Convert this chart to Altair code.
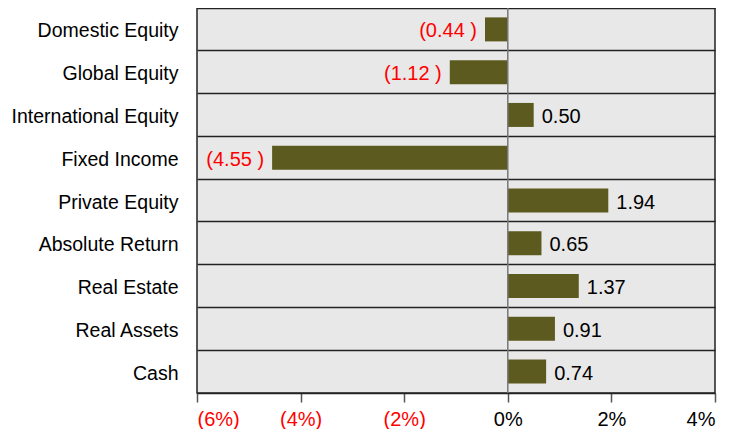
import altair as alt
import pandas as pd

categories = ["Domestic Equity", "Global Equity", "International Equity", "Fixed Income",
              "Private Equity", "Absolute Return", "Real Estate", "Real Assets", "Cash"]
values = [-0.44, -1.12, 0.50, -4.55, 1.94, 0.65, 1.37, 0.91, 0.74]
x_ticks = [-6, -4, -2, 0, 2, 4]

df = pd.DataFrame({"cat": categories, "val": values})
df["label"] = [f"({abs(v):.2f} )" if v < 0 else f"{v:.2f}" for v in values]

FONT = "Liberation Sans"
W, H = 518, 385

y_enc = alt.Y("cat:N", sort=categories, title=None,
              scale=alt.Scale(paddingInner=0, paddingOuter=0),
              axis=alt.Axis(labelFontSize=19.5, labelColor="black", labelFont=FONT,
                            ticks=False, domain=False, grid=True, bandPosition=0,
                            gridColor="#222", gridWidth=1.5, labelPadding=19,
                            labelOffset=2, labelLimit=300))
x_enc = alt.X("val:Q", title=None,
              scale=alt.Scale(domain=[-6, 4], nice=False, zero=False),
              axis=alt.Axis(values=x_ticks, grid=False, labelFontSize=20, labelFont=FONT,
                            labelExpr="datum.value < 0 ? '(' + abs(datum.value) + '%)' : datum.value + '%'",
                            labelColor={"condition": {"test": "datum.value < 0", "value": "red"}, "value": "black"},
                            tickSize=9, tickColor="#555", tickWidth=1.5, domainColor="#222",
                            domainWidth=1.5, labelPadding=7))

bars = alt.Chart(df).mark_bar(size=24, color="#5c5a1f").encode(y=y_enc, x=x_enc)

zero = alt.Chart(pd.DataFrame({"z": [0]})).mark_rule(color="#777", strokeWidth=1.5).encode(x=alt.X("z:Q"))

neg = alt.Chart(df).transform_filter("datum.val < 0").mark_text(
    align="right", dx=-8, dy=2, fontSize=20, font=FONT, color="red").encode(
    y=alt.Y("cat:N", sort=categories), x=alt.X("val:Q"), text="label:N")
pos = alt.Chart(df).transform_filter("datum.val >= 0").mark_text(
    align="left", dx=8, dy=2, fontSize=20, font=FONT, color="black").encode(
    y=alt.Y("cat:N", sort=categories), x=alt.X("val:Q"), text="label:N")

chart = alt.layer(bars, zero, neg, pos).properties(
    width=W, height=H,
    autosize=alt.AutoSizeParams(type="none"),
    padding={"left": 189, "top": 0, "right": 6, "bottom": 36},
).configure(
    background="white",
    view=alt.ViewConfig(fill="#e8e8e8", stroke="#222", strokeWidth=1.5),
)

chart.save("out.html", embed_options={"renderer": "svg", "actions": False})
